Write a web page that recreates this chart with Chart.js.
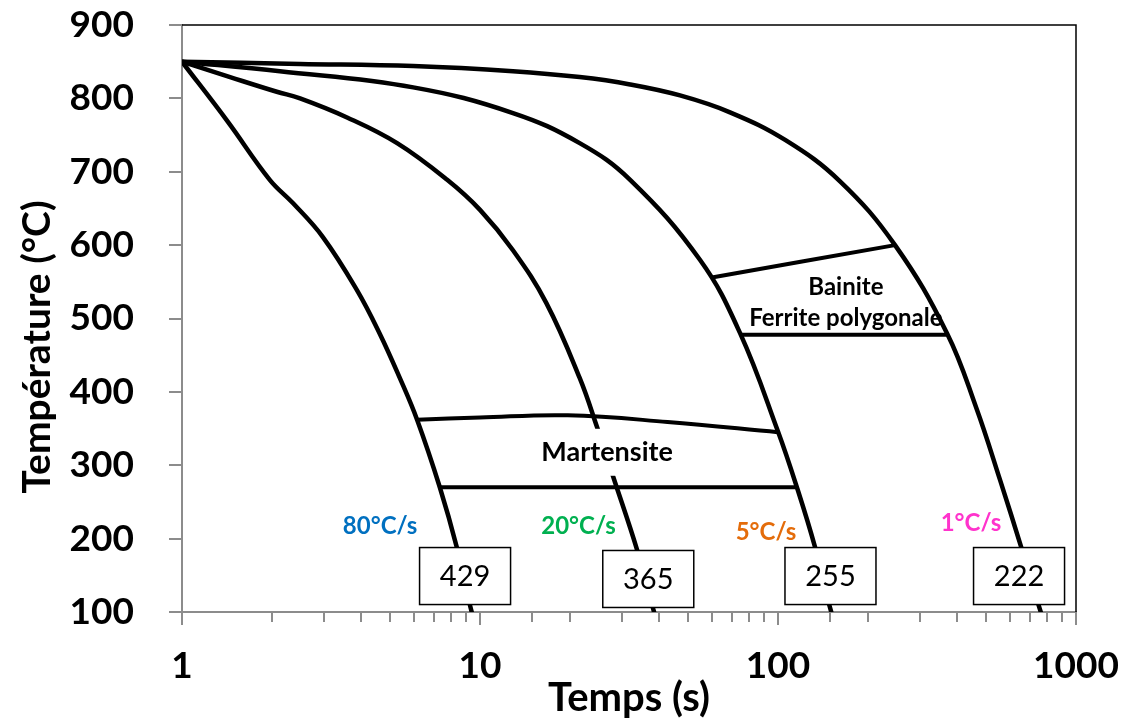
<!DOCTYPE html>
<html>
<head>
<meta charset="utf-8">
<script src="https://cdn.jsdelivr.net/npm/chart.js@4/dist/chart.umd.min.js"></script>
<style>
  html, body { margin: 0; padding: 0; background: #fff; }
</style>
</head>
<body>
<canvas id="cct" width="1132" height="719"></canvas>
<script>
// cooling curves, time (s) and temperature (°C)
const time80 = [1, 1.42, 1.97, 2.36, 2.97, 3.86, 4.6, 5.38, 6.15, 7.33, 8.36, 9.45, 9.8];
const temp80 = [850, 769, 689, 657, 611, 539, 480, 419, 362, 270, 188, 95, 85];
const time20 = [1, 1.45, 2.08, 2.49, 3.58, 5.27, 7.76, 10, 12.9, 16.7, 21.6, 24.7, 27.9, 33.7, 38.5, 39.5];
const temp20 = [850, 829, 809, 800, 774, 739, 689, 648, 593, 521, 419, 352, 286, 184, 98, 85];
const time5 = [1, 2.13, 5.97, 12.9, 21.6, 31.9, 54.7, 74.6, 100, 115.5, 133, 151.4, 158];
const temp5 = [850, 837, 815, 780, 739, 689, 580, 480, 346, 271, 189, 98, 85];
const time1 = [1, 2.49, 5.97, 12.9, 21.6, 31.9, 46.9, 69, 106, 161.5, 247, 369, 462, 556, 654, 763, 790];
const temp1 = [850, 847, 844, 837, 829, 819, 804, 781, 743, 687, 600, 480, 379, 280, 189, 99, 85];

// transformation lines
const bsTime = [60, 247];
const bsTemp = [556, 600];
const bfTime = [75.5, 368];
const bfTemp = [478, 478];
const msTime = [6.15, 10, 19.7, 42.6, 100];
const msTemp = [362, 365, 368, 359, 345];
const mfTime = [7.36, 116];
const mfTemp = [270, 270];

// texts
const rateLabels = ['80°C/s', '20°C/s', '5°C/s', '1°C/s'];
const rateColors = ['#0070C0', '#00B050', '#E46C0A', '#FF33CC'];
const boxValues = ['429', '365', '255', '222'];
const xTickLabels = [1, 10, 100, 1000];

// where the texts sit, in data units
const rateAnchors = [[4.62, 217], [21.4, 217], [91.1, 209], [444, 221]];
const boxAnchors = [[8.91, 149], [36.7, 145], [150, 149], [644, 149]];

function pts(ts, Ts) {
  return ts.map((t, i) => ({ x: t, y: Ts[i] }));
}

function line(ts, Ts, w) {
  return {
    data: pts(ts, Ts),
    showLine: true,
    borderColor: '#000',
    borderWidth: w,
    pointRadius: 0,
    tension: 0.4,
    fill: false
  };
}

const FONT = 'Lato';

const decor = {
  id: 'decor',
  beforeDatasetsDraw(chart) {
    const { ctx, scales: { x, y } } = chart;
    ctx.save();
    ctx.fillStyle = '#000';
    ctx.font = 'bold 24px ' + FONT;
    ctx.textAlign = 'center';
    ctx.textBaseline = 'middle';
    ctx.fillText('Bainite', x.getPixelForValue(169), y.getPixelForValue(543));
    ctx.fillText('Ferrite polygonale', x.getPixelForValue(169), y.getPixelForValue(501));
    ctx.restore();
  },
  afterDatasetsDraw(chart) {
    const { ctx, scales: { x, y } } = chart;
    ctx.save();
    ctx.textAlign = 'center';
    ctx.textBaseline = 'middle';

    // Martensite label on white
    const mx = x.getPixelForValue(26.7), my = y.getPixelForValue(317);
    ctx.fillStyle = '#fff';
    ctx.fillRect(mx - 74, my - 24, 148, 47);
    ctx.fillStyle = '#000';
    ctx.font = 'bold 27px ' + FONT;
    ctx.fillText('Martensite', mx, my);

    // cooling rates
    ctx.font = 'bold 24px ' + FONT;
    rateLabels.forEach((txt, i) => {
      ctx.fillStyle = rateColors[i];
      ctx.fillText(txt, x.getPixelForValue(rateAnchors[i][0]), y.getPixelForValue(rateAnchors[i][1]));
    });

    // hardness boxes
    ctx.font = '29px ' + FONT;
    boxValues.forEach((txt, i) => {
      const cx = x.getPixelForValue(boxAnchors[i][0]);
      const cy = y.getPixelForValue(boxAnchors[i][1]);
      const w = 91, h = 57;
      ctx.fillStyle = '#fff';
      ctx.fillRect(cx - w / 2, cy - h / 2, w, h);
      ctx.strokeStyle = '#000';
      ctx.lineWidth = 1.5;
      ctx.strokeRect(cx - w / 2, cy - h / 2, w, h);
      ctx.fillStyle = '#000';
      ctx.fillText(txt, cx, cy + 1);
    });
    ctx.restore();
  },
  afterDraw(chart) {
    const { ctx, chartArea: a, scales: { x, y } } = chart;
    ctx.save();
    // tick marks
    ctx.strokeStyle = '#8c8c8c';
    ctx.lineWidth = 2;
    ctx.beginPath();
    x.ticks.forEach(tk => {
      const px = Math.round(x.getPixelForValue(tk.value));
      const major = xTickLabels.includes(tk.value);
      ctx.moveTo(px, a.bottom);
      ctx.lineTo(px, a.bottom + (major ? 13 : 10));
    });
    y.ticks.forEach(tk => {
      const py = Math.round(y.getPixelForValue(tk.value));
      ctx.moveTo(a.left - 13, py);
      ctx.lineTo(a.left, py);
    });
    ctx.stroke();
    // top and right frame
    ctx.strokeStyle = '#000';
    ctx.lineWidth = 1.5;
    ctx.beginPath();
    ctx.moveTo(a.left, a.top);
    ctx.lineTo(a.right, a.top);
    ctx.lineTo(a.right, a.bottom);
    ctx.stroke();
    // y axis title
    ctx.translate(37, 347);
    ctx.rotate(-Math.PI / 2);
    ctx.font = 'bold 39px ' + FONT;
    ctx.fillStyle = '#000';
    ctx.textAlign = 'center';
    ctx.textBaseline = 'middle';
    ctx.fillText('Température (°C)', 0, 0);
    ctx.restore();
  }
};

function noPad(s) {
  s.paddingTop = 0;
  s.paddingBottom = 0;
  s.paddingLeft = 0;
  s.paddingRight = 0;
}

const ctx = document.getElementById('cct').getContext('2d');
new Chart(ctx, {
  type: 'scatter',
  data: {
    datasets: [
      line(time80, temp80, 4.5),
      line(time20, temp20, 4.5),
      line(time5, temp5, 4.5),
      line(time1, temp1, 4.5),
      line(bsTime, bsTemp, 4),
      line(bfTime, bfTemp, 4),
      line(msTime, msTemp, 4),
      line(mfTime, mfTemp, 4)
    ]
  },
  options: {
    responsive: false,
    devicePixelRatio: 1,
    animation: false,
    layout: { padding: { top: 25, right: 56, bottom: 0, left: 0 } },
    plugins: { legend: { display: false }, tooltip: { enabled: false } },
    scales: {
      x: {
        type: 'logarithmic',
        min: 1,
        max: 1000,
        grid: { display: false },
        border: { display: true, color: '#8c8c8c', width: 2 },
        ticks: {
          autoSkip: false,
          maxRotation: 0,
          padding: 24,
          color: '#000',
          font: { family: FONT, size: 37, weight: 'bold' },
          callback: v => xTickLabels.includes(v) ? String(v) : ''
        },
        title: {
          display: true,
          text: 'Temps (s)',
          color: '#000',
          font: { family: FONT, size: 40, weight: 'bold' },
          padding: { top: 0, bottom: -3 }
        },
        afterFit: s => { s.height = 107; noPad(s); }
      },
      y: {
        min: 100,
        max: 900,
        grid: { display: false },
        border: { display: true, color: '#8c8c8c', width: 2 },
        ticks: {
          stepSize: 100,
          padding: 40,
          color: '#000',
          font: { family: FONT, size: 37, weight: 'bold' }
        },
        afterFit: s => { s.width = 182; noPad(s); }
      }
    }
  },
  plugins: [decor]
});
</script>
</body>
</html>
